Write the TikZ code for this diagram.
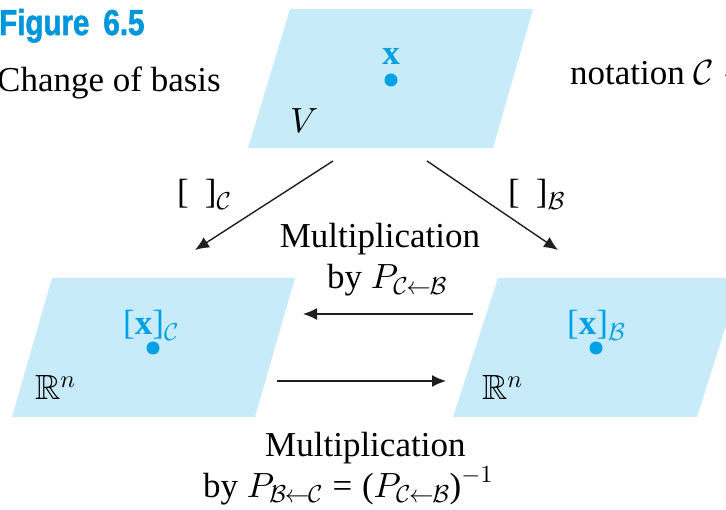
\documentclass[tikz,border=0pt]{standalone}
\usepackage{amsmath,amssymb}
\DeclareFontShape{OML}{cmm}{m}{it}{<-> cmmi10}{}
\DeclareFontShape{OMS}{cmsy}{m}{n}{<-> cmsy10}{}
\DeclareFontShape{OT1}{cmr}{m}{n}{<-> cmr10}{}
\DeclareFontFamily{U}{msb}{}
\DeclareFontShape{U}{msb}{m}{n}{<-> msbm10}{}
\usepackage{fontspec}
\setmainfont{Liberation Serif}
\newfontfamily\figfont[FakeStretch=0.82,FakeBold=1.5]{Liberation Sans Bold}
\usetikzlibrary{arrows.meta}
\definecolor{planefill}{RGB}{200,235,250}
\definecolor{ptblue}{RGB}{0,160,228}
\definecolor{figblue}{RGB}{0,150,220}
\definecolor{arrowgray}{RGB}{30,30,30}
\newcommand{\cb}{\mathcal{C}\mkern-1mu\leftarrow\mkern-1mu\mathcal{B}}
\newcommand{\bc}{\mathcal{B}\mkern-1mu\leftarrow\mkern-1mu\mathcal{C}}
\newcommand{\lbk}{\text{[}}
\newcommand{\rbk}{\text{]}}
\newcommand{\lpr}{\text{(}}
\newcommand{\rpr}{\text{)}}
\newcommand{\eqs}{\mathrel{\text{=}}}
\begin{document}
\begin{tikzpicture}[x=1pt,y=-1pt,
  plane/.style={fill=planefill},
  txt/.style={inner sep=0pt, anchor=base west, font=\fontsize{35}{40}\selectfont},
  ptlabel/.style={txt, text=ptblue},
  pt/.style={circle, fill=ptblue, inner sep=0pt, minimum size=13pt},
  arr/.style={draw=arrowgray, line width=1.4pt, -{Latex[length=14pt,width=12pt]}}]
\useasboundingbox (0,0) rectangle (726,510);
\clip (0,0) rectangle (726,510);
% planes
\fill[plane] (290,9) -- (533,9) -- (493,148) -- (248,148) -- cycle;
\fill[plane] (52,278) -- (295,278) -- (255,417) -- (12,417) -- cycle;
\fill[plane] (498,278) -- (741,278) -- (697,417) -- (453,417) -- cycle;
% titles
\node[inner sep=0pt, anchor=base west, text=figblue, font=\figfont\fontsize{36}{40}\selectfont] (fig) at (-1,35) {Figure\hspace{14pt}6.5};
\node[txt] (title) at (-3,92) {Change of basis};
\node[txt] (notation) at (570,85) {notation $\mathcal{C}\leftarrow$};
% top plane
\node[ptlabel, anchor=base] (xl) at (391,65) {$\mathbf{x}$};
\node[pt] (x) at (391,80) {};
\node[txt] (V) at (290,133) {$V$};
% left plane
\node[ptlabel] (xcl) at (123,335) {$\lbk\mathbf{x}\rbk_{\mathcal{C}}$};
\node[pt] (xc) at (153,348) {};
\node[txt] (Rl) at (35,400) {$\mathbb{R}^n$};
% right plane
\node[ptlabel] (xbl) at (567,335) {$\lbk\mathbf{x}\rbk_{\mathcal{B}}$};
\node[pt] (xb) at (596,348) {};
\node[txt] (Rr) at (482,400) {$\mathbb{R}^n$};
% arrow labels
\node[txt] (lc) at (177,204) {$\lbk\hspace{16pt}\rbk_{\mathcal{C}}$};
\node[txt] (lb) at (508,204) {$\lbk\hspace{16pt}\rbk_{\mathcal{B}}$};
\node[txt, anchor=base] (m1) at (380,248) {Multiplication};
\node[txt] (m1b) at (327,289) {by $P_{\cb}$};
\node[txt] (m2) at (265,457) {Multiplication};
\node[txt] (m2b) at (203,497) {by $P_{\bc} \eqs \lpr P_{\cb}\rpr^{-1}$};
% arrows
\coordinate (a1s) at (333,161); \coordinate (a1e) at (195,250);
\coordinate (a2s) at (427,161); \coordinate (a2e) at (558,250);
\coordinate (a3s) at (473,314); \coordinate (a3e) at (303,314);
\coordinate (a4s) at (277,381); \coordinate (a4e) at (446,381);
\draw[arr] (a1s) -- (a1e);
\draw[arr] (a2s) -- (a2e);
\draw[arr] (a3s) -- (a3e);
\draw[arr] (a4s) -- (a4e);
\end{tikzpicture}
\end{document}
